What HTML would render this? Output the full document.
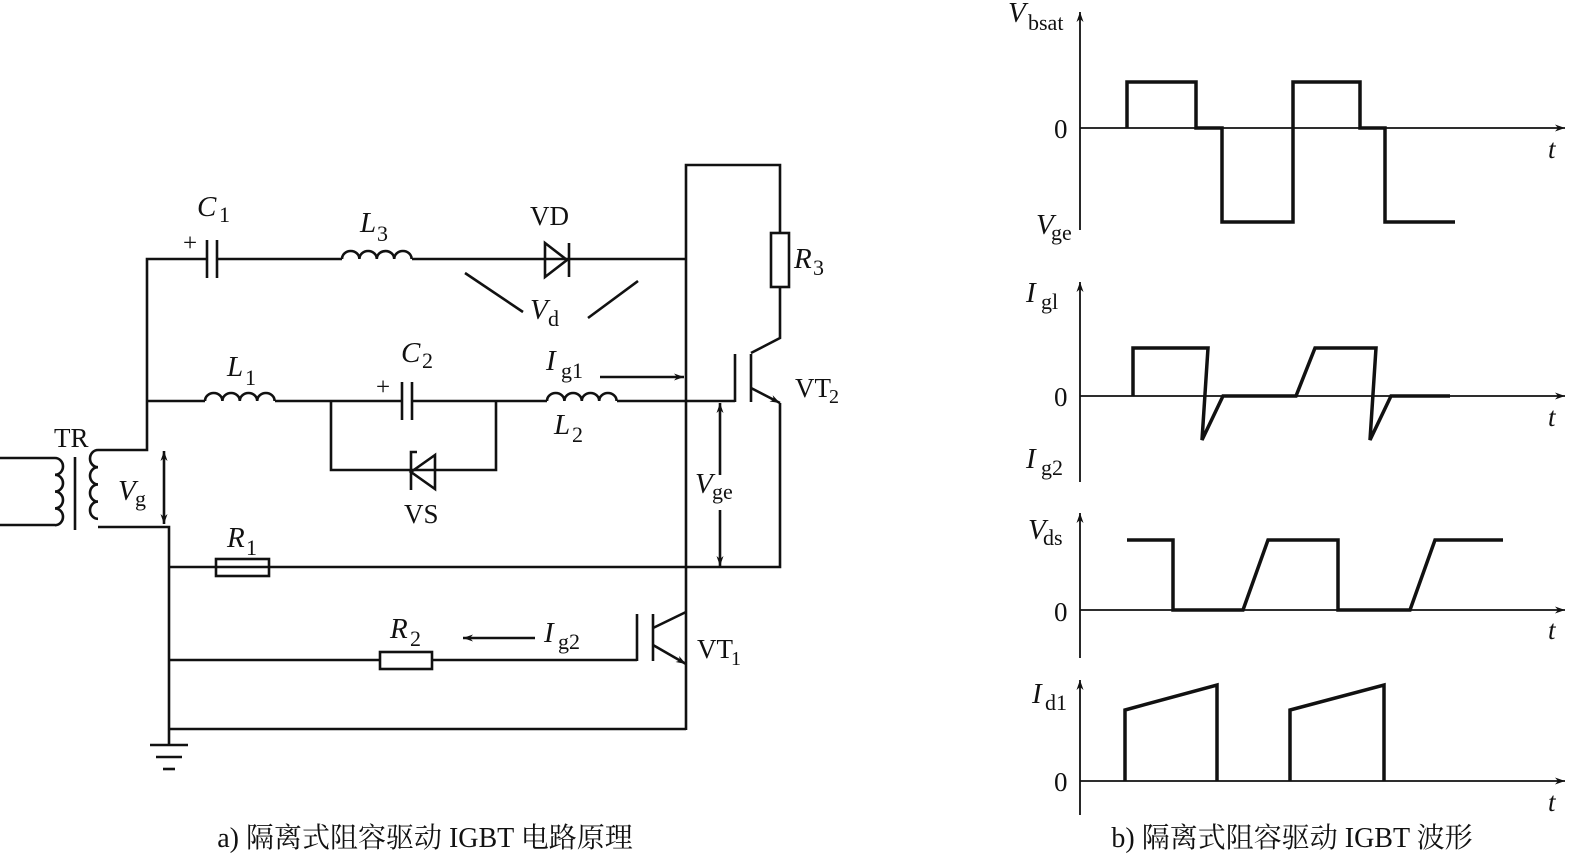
<!DOCTYPE html>
<html><head><meta charset="utf-8"><style>
html,body{margin:0;padding:0;background:#fff}
svg{display:block}
text{font-family:"Liberation Serif","Noto Serif CJK SC",serif;fill:#111}
.i{font-style:italic}
</style></head><body>
<svg width="1575" height="857" viewBox="0 0 1575 857" xmlns="http://www.w3.org/2000/svg">
<defs>
<marker id="a" viewBox="0 0 10 10" refX="10" refY="5" markerWidth="20" markerHeight="10" markerUnits="userSpaceOnUse" orient="auto-start-reverse"><path d="M0,1.5 L10,5 L0,8.5 L3,5z" fill="#111"/></marker>
</defs>
<g stroke="#111" stroke-width="2.6" fill="none">
<polyline points="0,458 55,458"/><polyline points="0,525 55,525"/>
<path d="M55,458 a8,8.4 0 0 1 0,16.8 a8,8.4 0 0 1 0,16.8 a8,8.4 0 0 1 0,16.8 a8,8.4 0 0 1 0,16.8"/>
<line x1="75" y1="457" x2="75" y2="530"/>
<path d="M98,450 a8,8.6 0 0 0 0,17.2 a8,8.6 0 0 0 0,17.2 a8,8.6 0 0 0 0,17.2 a8,8.6 0 0 0 0,17.2"/>
<polyline points="98,450 147,450 147,259 207,259"/>
<line x1="207" y1="240" x2="207" y2="278"/><line x1="217" y1="240" x2="217" y2="278"/>
<polyline points="217,259 342,259"/>
<path d="M342,259 a8.7,8 0 0 1 17.4,0 a8.7,8 0 0 1 17.4,0 a8.7,8 0 0 1 17.4,0 a8.7,8 0 0 1 17.4,0"/>
<polyline points="412,259 686,259"/>
<path d="M545,243 L567,260 L545,277z"/><line x1="569" y1="243" x2="569" y2="277"/>
<line x1="465" y1="273" x2="523" y2="312"/><line x1="588" y1="318" x2="638" y2="281"/>
<polyline points="147,401 205,401"/>
<path d="M205,401 a8.7,8 0 0 1 17.4,0 a8.7,8 0 0 1 17.4,0 a8.7,8 0 0 1 17.4,0 a8.7,8 0 0 1 17.4,0"/>
<polyline points="275,401 402,401"/>
<line x1="402" y1="382" x2="402" y2="420"/><line x1="412" y1="382" x2="412" y2="420"/>
<polyline points="412,401 547,401"/>
<polyline points="331,401 331,470 496,470 496,401"/>
<path d="M435,455 L411,472 L435,489z"/><polyline points="417,452 411,452 411,490"/>
<path d="M547,401 a8.7,8 0 0 1 17.4,0 a8.7,8 0 0 1 17.4,0 a8.7,8 0 0 1 17.4,0 a8.7,8 0 0 1 17.4,0"/>
<polyline points="617,401 735,401"/>
<polyline points="686,730 686,165 780,165 780,233"/>
<rect x="771" y="233" width="18" height="54"/>
<polyline points="780,287 780,338 751,353"/>
<line x1="735" y1="354" x2="735" y2="402"/><line x1="751" y1="354" x2="751" y2="402"/>
<line x1="751" y1="388" x2="780" y2="403" marker-end="url(#a)"/>
<polyline points="780,403 780,567 169,567"/>
<line x1="600" y1="377" x2="684" y2="377" marker-end="url(#a)"/>
<line x1="720" y1="403" x2="720" y2="475" marker-start="url(#a)"/>
<line x1="720" y1="510" x2="720" y2="566" marker-end="url(#a)"/>
<line x1="164" y1="451" x2="164" y2="524" marker-start="url(#a)" marker-end="url(#a)"/>
<polyline points="98,527 169,527 169,745"/>
<line x1="150" y1="745" x2="188" y2="745"/><line x1="156" y1="757" x2="182" y2="757"/><line x1="163" y1="769" x2="175" y2="769"/>
<rect x="216" y="559" width="53" height="17"/>
<polyline points="169,660 380,660"/><rect x="380" y="652" width="52" height="17"/><polyline points="432,660 637,660"/>
<line x1="637" y1="614" x2="637" y2="661"/><line x1="653" y1="614" x2="653" y2="661"/>
<line x1="653" y1="628" x2="686" y2="612"/>
<line x1="653" y1="645" x2="686" y2="664" marker-end="url(#a)"/>
<line x1="535" y1="638" x2="463" y2="638" marker-end="url(#a)"/>
<polyline points="169,729 686,729"/>
</g>
<g>
<text x="197" y="216" class="i" font-size="29">C</text><text x="219" y="222" font-size="22">1</text>
<text x="183" y="251" font-size="25">+</text>
<text x="360" y="232" class="i" font-size="29">L</text><text x="377" y="241" font-size="22">3</text>
<text x="530" y="225" font-size="27">VD</text>
<text x="530" y="319" class="i" font-size="29">V</text><text x="548" y="326" font-size="22">d</text>
<text x="401" y="362" class="i" font-size="29">C</text><text x="422" y="368" font-size="22">2</text>
<text x="376" y="395" font-size="25">+</text>
<text x="227" y="376" class="i" font-size="29">L</text><text x="245" y="385" font-size="22">1</text>
<text x="546" y="370" class="i" font-size="29">I</text><text x="561" y="378" font-size="22">g1</text>
<text x="554" y="434" class="i" font-size="29">L</text><text x="572" y="442" font-size="22">2</text>
<text x="404" y="523" font-size="27">VS</text>
<text x="54" y="447" font-size="27">TR</text>
<text x="118" y="500" class="i" font-size="29">V</text><text x="135" y="506" font-size="22">g</text>
<text x="227" y="547" class="i" font-size="29">R</text><text x="246" y="555" font-size="22">1</text>
<text x="390" y="638" class="i" font-size="29">R</text><text x="410" y="646" font-size="22">2</text>
<text x="544" y="642" class="i" font-size="29">I</text><text x="558" y="649" font-size="22">g2</text>
<text x="794" y="268" class="i" font-size="29">R</text><text x="813" y="275" font-size="22">3</text>
<text x="795" y="397" font-size="27">VT</text><text x="829" y="403" font-size="20">2</text>
<text x="695" y="493" class="i" font-size="29">V</text><text x="712" y="499" font-size="22">ge</text>
<text x="697" y="658" font-size="27">VT</text><text x="731" y="665" font-size="20">1</text>
<text x="425" y="847" text-anchor="middle" font-size="28">a) 隔离式阻容驱动 IGBT 电路原理</text>
<text x="1292" y="847" text-anchor="middle" font-size="28">b) 隔离式阻容驱动 IGBT 波形</text>
</g>
<g stroke="#111" stroke-width="1.8" fill="none">
<line x1="1080" y1="230" x2="1080" y2="12" marker-end="url(#a)"/>
<line x1="1080" y1="128" x2="1565" y2="128" marker-end="url(#a)"/>
<line x1="1080" y1="482" x2="1080" y2="282" marker-end="url(#a)"/>
<line x1="1080" y1="396" x2="1565" y2="396" marker-end="url(#a)"/>
<line x1="1080" y1="658" x2="1080" y2="513" marker-end="url(#a)"/>
<line x1="1080" y1="610" x2="1565" y2="610" marker-end="url(#a)"/>
<line x1="1080" y1="815" x2="1080" y2="680" marker-end="url(#a)"/>
<line x1="1080" y1="781" x2="1565" y2="781" marker-end="url(#a)"/>
</g>
<g stroke="#111" stroke-width="3.5" fill="none" stroke-linejoin="miter">
<polyline points="1127,128 1127,82 1196,82 1196,128 1222,128 1222,222 1293,222 1293,82 1360,82 1360,128 1385,128 1385,222 1455,222"/>
<polyline points="1133,396 1133,348 1208,348 1202,440 1223,396 1296,396 1315,348 1376,348 1370,440 1391,396 1450,396"/>
<polyline points="1127,540 1173,540 1173,610 1243,610 1268,540 1338,540 1338,610 1410,610 1435,540 1503,540"/>
<polyline points="1125,781 1125,710 1217,685 1217,781"/>
<polyline points="1290,781 1290,710 1384,685 1384,781"/>
</g>
<g>
<text x="1008" y="22" class="i" font-size="29">V</text><text x="1028" y="30" font-size="22">bsat</text>
<text x="1054" y="138" font-size="27">0</text>
<text x="1548" y="158" class="i" font-size="27">t</text>
<text x="1036" y="234" class="i" font-size="29">V</text><text x="1051" y="240" font-size="22">ge</text>
<text x="1026" y="302" class="i" font-size="29">I</text><text x="1041" y="309" font-size="22">gl</text>
<text x="1054" y="406" font-size="27">0</text>
<text x="1548" y="426" class="i" font-size="27">t</text>
<text x="1026" y="468" class="i" font-size="29">I</text><text x="1041" y="475" font-size="22">g2</text>
<text x="1028" y="539" class="i" font-size="29">V</text><text x="1043" y="545" font-size="22">ds</text>
<text x="1054" y="621" font-size="27">0</text>
<text x="1548" y="639" class="i" font-size="27">t</text>
<text x="1032" y="703" class="i" font-size="29">I</text><text x="1045" y="710" font-size="22">d1</text>
<text x="1054" y="791" font-size="27">0</text>
<text x="1548" y="811" class="i" font-size="27">t</text>
</g>
</svg>
</body></html>
